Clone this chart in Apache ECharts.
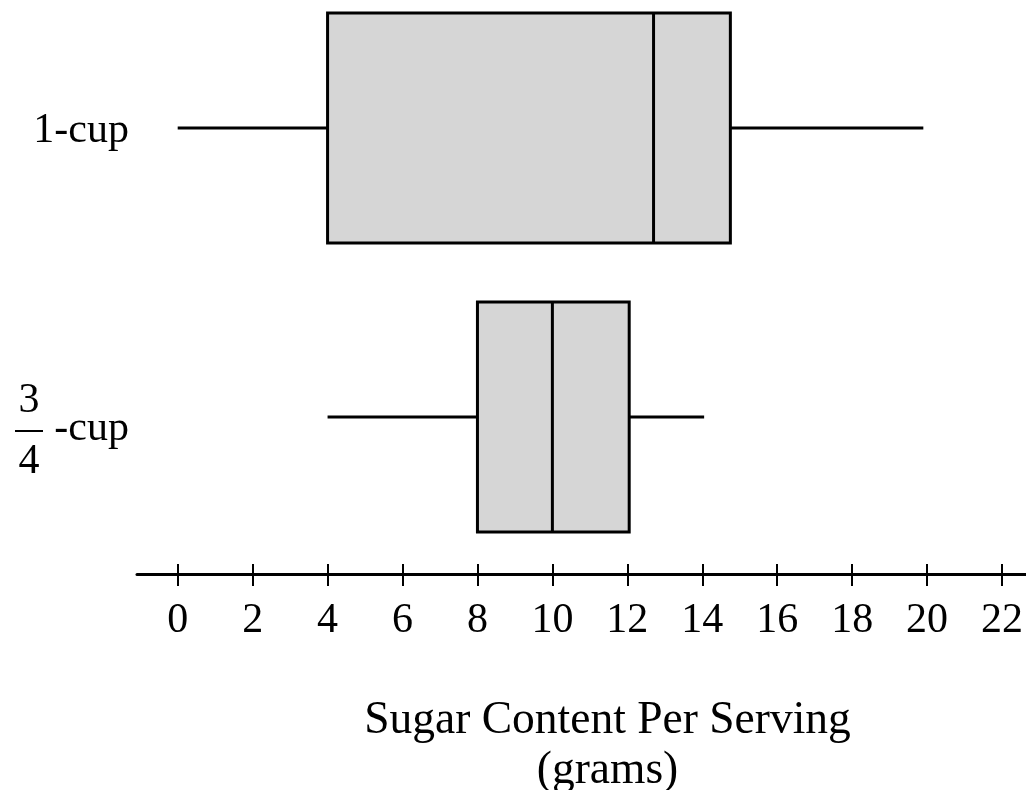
<!DOCTYPE html>
<html><head><meta charset="utf-8">
<script src="https://cdn.jsdelivr.net/npm/echarts@6/dist/echarts.min.js"></script>
<style>html,body{margin:0;padding:0;background:#fff}#c{width:1026px;height:790px}</style>
</head><body><div id="c"></div>
<script>
// ---- data ----
const categories = ['1-cup', '3/4-cup'];
const minValues = [0, 4];
const q1Values = [4, 8];
const medianValues = [12.7, 10];
const q3Values = [14.75, 12.05];
const maxValues = [19.9, 14.05];
const tickValues = [0, 2, 4, 6, 8, 10, 12, 14, 16, 18, 20, 22];
const axisTitle = 'Sugar Content Per Serving\n(grams)';

const FONT = 'Liberation Serif';
const BOX_HALF = 115;

const seriesData = categories.map((c, i) => [i, minValues[i], q1Values[i], medianValues[i], q3Values[i], maxValues[i]]);

function isFraction(v) { return v.indexOf('/') >= 0; }

const chart = echarts.init(document.getElementById('c'));
chart.setOption({
  animation: false,
  backgroundColor: '#fff',
  grid: { left: 137, right: 0, top: 128, bottom: 373, containLabel: false, outerBoundsMode: 'none' },
  xAxis: [
    {
      type: 'value', min: -1.086, max: 22.64, offset: 157, position: 'bottom',
      splitLine: { show: false },
      axisLine: { show: true, lineStyle: { color: '#000', width: 3 } },
      axisTick: { show: true, inside: false, length: 12, customValues: tickValues, lineStyle: { color: '#000', width: 2 } },
      axisLabel: { customValues: tickValues, color: '#000', fontFamily: FONT, fontSize: 42, margin: 26 },
      name: axisTitle, nameLocation: 'middle', nameGap: 122,
      nameTextStyle: { color: '#000', fontFamily: FONT, fontSize: 45.5, lineHeight: 50, padding: [0, 0, 0, 52] }
    },
    {
      type: 'value', min: -1.086, max: 22.64, offset: 157, position: 'bottom',
      splitLine: { show: false },
      axisLine: { show: false },
      axisTick: { show: true, inside: true, length: 10, customValues: tickValues, lineStyle: { color: '#000', width: 2 } },
      axisLabel: { show: false }
    }
  ],
  yAxis: [
    {
      type: 'category', data: categories,
      inverse: true, boundaryGap: false, position: 'left',
      axisLine: { show: false }, axisTick: { show: false }, splitLine: { show: false },
      axisLabel: {
        margin: 8,
        formatter: v => isFraction(v) ? '{c|' + v.slice(v.indexOf('-')) + '}' : '{a|' + v + '}',
        rich: {
          a: { color: '#000', fontFamily: FONT, fontSize: 42, padding: [6, 0, 0, 0] },
          c: { color: '#000', fontFamily: FONT, fontSize: 42, padding: [24, 0, 0, 0] }
        }
      }
    },
    {
      type: 'category', data: categories, inverse: true, boundaryGap: false, position: 'left', offset: 86,
      axisLine: { show: false }, axisTick: { show: false }, splitLine: { show: false },
      axisLabel: {
        margin: 8, padding: [28, 0, 0, 0],
        formatter: v => {
          if (!isFraction(v)) return '';
          const frac = v.slice(0, v.indexOf('-')).split('/');
          return '{n|' + frac[0] + '}\n{bar|}\n{d|' + frac[1] + '}';
        },
        rich: {
          n: { fontFamily: FONT, fontSize: 42, lineHeight: 44, color: '#000', align: 'center' },
          bar: { width: 28, height: 2, backgroundColor: '#000', lineHeight: 17, align: 'center' },
          d: { fontFamily: FONT, fontSize: 42, lineHeight: 44, color: '#000', align: 'center' }
        }
      }
    }
  ],
  series: [{
    type: 'custom',
    xAxisIndex: 0, yAxisIndex: 0,
    data: seriesData,
    encode: { x: [1, 2, 3, 4, 5], y: 0 },
    renderItem: (params, api) => {
      const y = api.value(0);
      const pMin = api.coord([api.value(1), y]);
      const pQ1 = api.coord([api.value(2), y]);
      const pMed = api.coord([api.value(3), y]);
      const pQ3 = api.coord([api.value(4), y]);
      const pMax = api.coord([api.value(5), y]);
      const yc = pMin[1];
      const ls = { stroke: '#000', lineWidth: 3 };
      return {
        type: 'group',
        children: [
          { type: 'line', shape: { x1: pMin[0], y1: yc, x2: pQ1[0], y2: yc }, style: ls },
          { type: 'line', shape: { x1: pQ3[0], y1: yc, x2: pMax[0], y2: yc }, style: ls },
          { type: 'rect', shape: { x: pQ1[0], y: yc - BOX_HALF, width: pQ3[0] - pQ1[0], height: 2 * BOX_HALF }, style: { fill: '#d6d6d6', stroke: '#000', lineWidth: 3 } },
          { type: 'line', shape: { x1: pMed[0], y1: yc - BOX_HALF, x2: pMed[0], y2: yc + BOX_HALF }, style: ls }
        ]
      };
    }
  }]
});
</script>
</body></html>
